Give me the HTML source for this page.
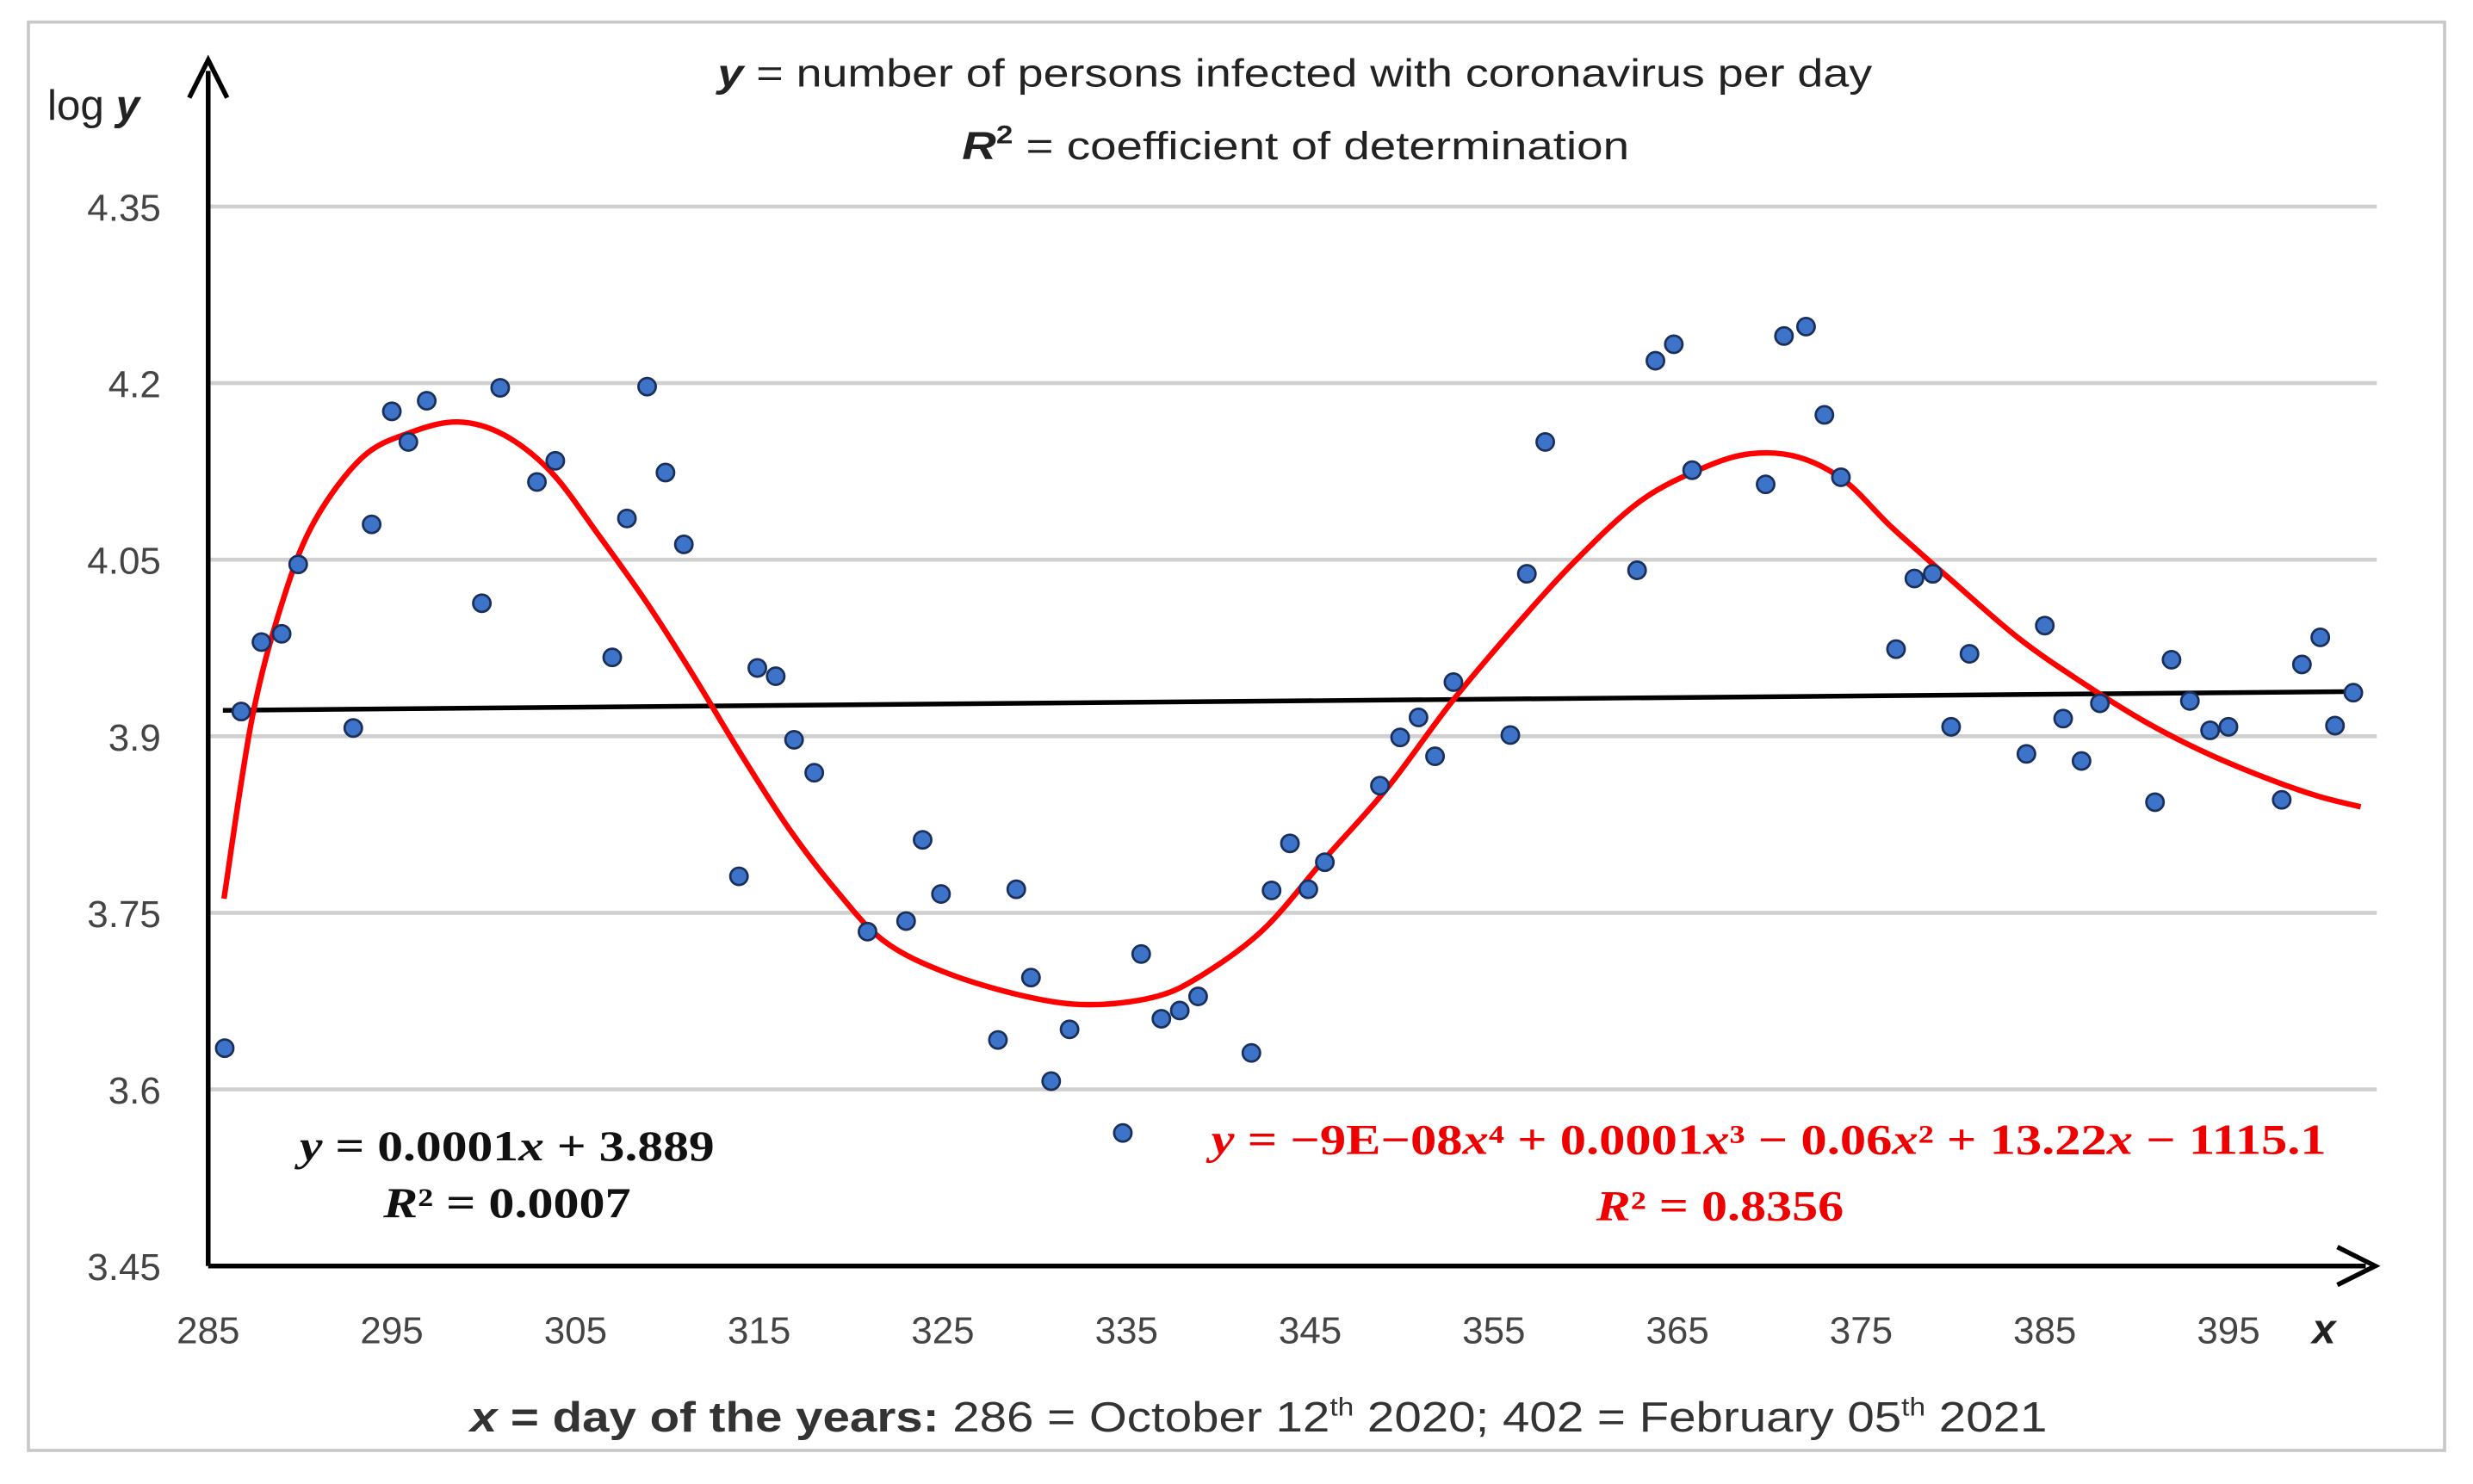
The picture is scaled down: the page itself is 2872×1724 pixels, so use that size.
<!DOCTYPE html>
<html><head><meta charset="utf-8"><style>
html,body{margin:0;padding:0;background:#fff}
svg{display:block}
text{font-family:"Liberation Sans",sans-serif}
.tk{font-size:24px;fill:#444}
.eq{font-family:"Liberation Serif",serif;font-weight:bold;font-size:27px}
.eq tspan.v{font-style:italic}
</style></head><body>
<svg id="chart" width="2872" height="1724" viewBox="0 0 1568 941.3" preserveAspectRatio="none" xmlns="http://www.w3.org/2000/svg">
<rect x="18" y="14" width="1532" height="906" fill="#fff" stroke="#c8c8c8" stroke-width="2"/>
<g id="grid"></g>
<g id="yticks"></g>
<g id="xticks"></g>
<line x1="132" y1="803" x2="132" y2="45" stroke="#000" stroke-width="3"/>
<path d="M120 62 L132 38 L144 62" fill="none" stroke="#000" stroke-width="3"/>
<line x1="132" y1="803" x2="1500" y2="803" stroke="#000" stroke-width="3"/>
<path d="M1482 791 L1506 803 L1482 815" fill="none" stroke="#000" stroke-width="3"/>
<text x="30" y="76" font-size="27" fill="#222">log <tspan font-weight="bold" font-style="italic">y</tspan></text>
<text x="1466" y="852" font-size="27" font-weight="bold" font-style="italic" fill="#222">x</text>
<text x="455" y="55" font-size="25" textLength="732" lengthAdjust="spacingAndGlyphs" fill="#222"><tspan font-weight="bold" font-style="italic">y</tspan> = number of persons infected with coronavirus per day</text>
<text x="610" y="101" font-size="25" textLength="423" lengthAdjust="spacingAndGlyphs" fill="#222"><tspan font-weight="bold" font-style="italic">R</tspan><tspan font-weight="bold" font-size="16" dy="-10">2</tspan><tspan dy="10"> = coefficient of determination</tspan></text>
<text x="298" y="908" font-size="27" textLength="1000" lengthAdjust="spacingAndGlyphs" fill="#333"><tspan font-weight="bold"><tspan font-style="italic">x</tspan> = day of the years:</tspan>  286 = October 12<tspan font-size="16" dy="-10">th</tspan><tspan dy="10"> 2020; 402 = February 05</tspan><tspan font-size="16" dy="-10">th</tspan><tspan dy="10"> 2021</tspan></text>
<g id="trend"></g>
<g id="poly"></g>
<g id="pts"></g>
<text class="eq" x="190" y="736" textLength="263" lengthAdjust="spacingAndGlyphs" fill="#111"><tspan class="v">y</tspan> = 0.0001<tspan class="v">x</tspan> + 3.889</text>
<text class="eq" x="243" y="772" textLength="157" lengthAdjust="spacingAndGlyphs" fill="#111"><tspan class="v">R</tspan>² = 0.0007</text>
<text class="eq" x="768" y="732" textLength="707" lengthAdjust="spacingAndGlyphs" fill="#e00"><tspan class="v">y</tspan> = −9E−08<tspan class="v">x</tspan>⁴ + 0.0001<tspan class="v">x</tspan>³ − 0.06<tspan class="v">x</tspan>² + 13.22<tspan class="v">x</tspan> − 1115.1</text>
<text class="eq" x="1012" y="774" textLength="157" lengthAdjust="spacingAndGlyphs" fill="#e00"><tspan class="v">R</tspan>² = 0.8356</text>
</svg>
<script>
const yTicks=[3.45,3.6,3.75,3.9,4.05,4.2,4.35];
const yTickLabels=["3.45","3.6","3.75","3.9","4.05","4.2","4.35"];
const xTicks=[285,295,305,315,325,335,345,355,365,375,385,395];
const days=[285.9,286.8,287.9,289,289.9,292.9,293.9,295,295.9,296.9,299.9,300.9,302.9,303.9,307,307.8,308.9,309.9,310.9,313.9,314.9,315.9,316.9,318,320.9,323,323.9,324.9,328,329,329.8,330.9,331.9,334.8,335.8,336.9,337.9,338.9,341.8,342.9,343.9,344.9,345.8,348.8,349.9,350.9,351.8,352.8,355.9,356.8,357.8,362.8,363.8,364.8,365.8,369.8,370.8,372,373,373.9,376.9,377.9,378.9,379.9,380.9,384,385,386,387,388,391,391.9,392.9,394,395,397.9,399,400,400.8,401.8];
const logY=[3.635,3.921,3.98,3.987,4.046,3.907,4.08,4.176,4.15,4.185,4.013,4.196,4.116,4.134,3.967,4.085,4.197,4.124,4.063,3.781,3.958,3.951,3.897,3.869,3.734,3.743,3.812,3.766,3.642,3.77,3.695,3.607,3.651,3.563,3.715,3.66,3.667,3.679,3.631,3.769,3.809,3.77,3.793,3.858,3.899,3.916,3.883,3.946,3.901,4.038,4.15,4.041,4.219,4.233,4.126,4.114,4.24,4.248,4.173,4.12,3.974,4.034,4.038,3.908,3.97,3.885,3.994,3.915,3.879,3.928,3.844,3.965,3.93,3.905,3.908,3.846,3.961,3.984,3.909,3.937];
const trendDays=[285.8,402];
const trendVals=[3.922,3.938];
const polyDays=[285.86,287.4,289.1,290.8,293.4,296,298.6,301.1,303.7,306.3,308.9,311.4,314,316.6,319.2,321.8,325.2,329.5,332.9,336.4,338.9,342.4,345.8,349.2,352.7,356.1,359.5,363,366.4,369,371.6,374.1,376.7,380.1,383.6,387,390.5,393.9,397.3,399.9,402.2];
const polyVals=[3.762,3.916,4.017,4.083,4.137,4.158,4.167,4.156,4.124,4.07,4.013,3.952,3.885,3.822,3.769,3.726,3.699,3.679,3.672,3.678,3.695,3.735,3.796,3.856,3.929,3.992,4.05,4.1,4.128,4.14,4.137,4.117,4.077,4.03,3.983,3.946,3.912,3.885,3.863,3.849,3.84];
const NS="http://www.w3.org/2000/svg";
const X=d=>132+(d-285)*11.645;
const Y=v=>131+(4.35-v)/0.15*112;
function mk(tag,attrs,parent){const e=document.createElementNS(NS,tag);for(const k in attrs)e.setAttribute(k,attrs[k]);parent.appendChild(e);return e;}
const grid=document.getElementById('grid'),yt=document.getElementById('yticks'),xt=document.getElementById('xticks');
yTicks.forEach((v,i)=>{
  if(i>0){const l=mk('line',{x1:132,x2:1507,y1:Y(v),y2:Y(v),stroke:'#d0d0d0','stroke-width':2.5},grid);
  
  }
  const t=mk('text',{x:102,y:Y(v)+9,'text-anchor':'end',class:'tk'},yt);t.textContent=yTickLabels[i];
  
  
});
xTicks.forEach(d=>{
  const t=mk('text',{x:X(d),y:852,'text-anchor':'middle',class:'tk'},xt);t.textContent=d;
  
  
});
const tl=mk('line',{x1:X(trendDays[0]),y1:Y(trendVals[0]),x2:X(trendDays[1]),y2:Y(trendVals[1]),stroke:'#000','stroke-width':3},document.getElementById('trend'));


const P=polyDays.map((d,i)=>[X(d),Y(polyVals[i])]);
let dstr='M'+P[0][0]+' '+P[0][1];
for(let i=0;i<P.length-1;i++){
  const p0=P[Math.max(0,i-1)],p1=P[i],p2=P[i+1],p3=P[Math.min(P.length-1,i+2)];
  const c1=[p1[0]+(p2[0]-p0[0])/6,p1[1]+(p2[1]-p0[1])/6];
  const c2=[p2[0]-(p3[0]-p1[0])/6,p2[1]-(p3[1]-p1[1])/6];
  dstr+=' C'+c1[0]+' '+c1[1]+' '+c2[0]+' '+c2[1]+' '+p2[0]+' '+p2[1];
}
const pp=mk('path',{d:dstr,fill:'none',stroke:'#f00','stroke-width':3.5,'stroke-linejoin':'round'},document.getElementById('poly'));


const pts=document.getElementById('pts');
days.forEach((d,i)=>{
  const c=mk('circle',{cx:X(d),cy:Y(logY[i]),r:5.5,fill:'#3d73c8',stroke:'#1a2f5a','stroke-width':1.5},pts);
  
  
});
</script>
</body></html>
